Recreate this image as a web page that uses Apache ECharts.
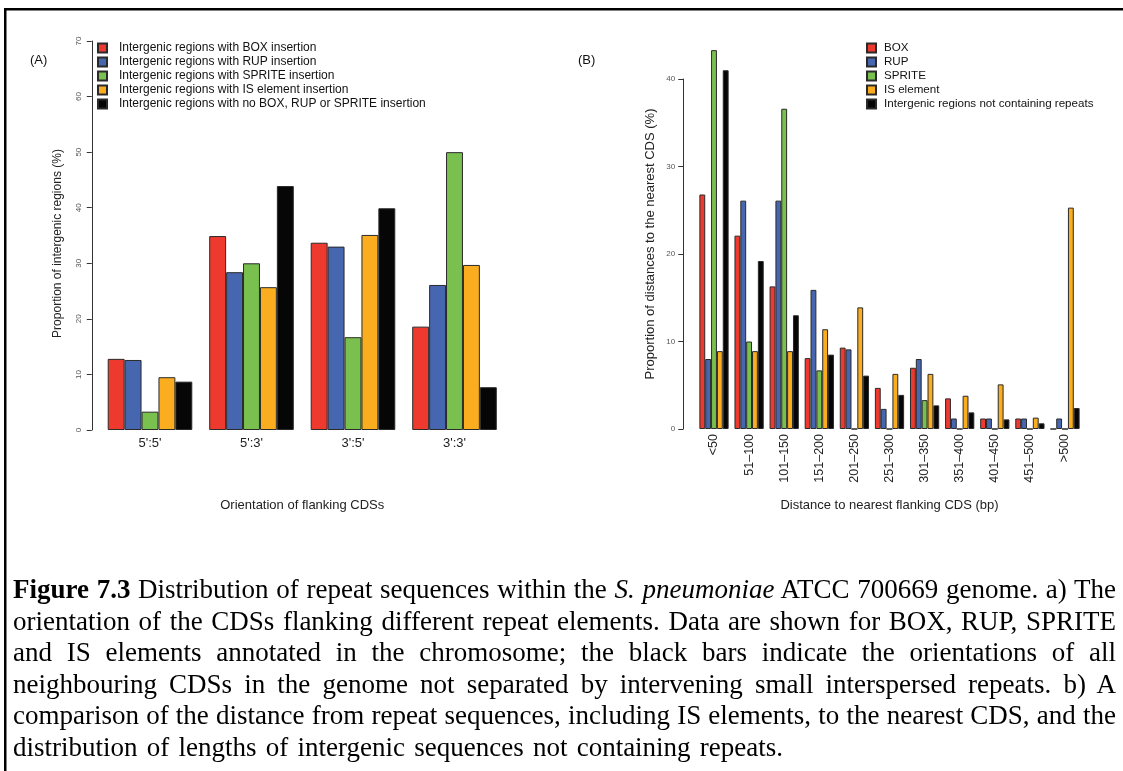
<!DOCTYPE html>
<html>
<head>
<meta charset="utf-8">
<script src="https://cdn.jsdelivr.net/npm/echarts@6/dist/echarts.min.js"></script>
<style>
  html, body { margin: 0; padding: 0; background: #fff; }
  #wrap { position: relative; width: 1123px; height: 771px; overflow: hidden; }
  #chart { position: absolute; left: 0; top: 0; width: 1123px; height: 771px; }
  #caption {
    position: absolute; left: 13px; top: 574px; width: 1103px;
    font-family: "Liberation Serif", "Times New Roman", serif;
    font-size: 27px; color: #000;
  }
  #caption div { height: 31.6px; line-height: 31.6px; white-space: nowrap; }
  #caption div.j { text-align: justify; text-align-last: justify; white-space: normal; overflow: hidden; }
  #caption div.last { word-spacing: 2.5px; }
</style>
</head>
<body>
<div id="wrap">
  <div id="chart"></div>
  <div id="caption">
    <div class="j"><b>Figure 7.3</b> Distribution of repeat sequences within the <i>S. pneumoniae</i> ATCC 700669 genome. a) The</div>
    <div class="j">orientation of the CDSs flanking different repeat elements. Data are shown for BOX, RUP, SPRITE</div>
    <div class="j">and IS elements annotated in the chromosome; the black bars indicate the orientations of all</div>
    <div class="j">neighbouring CDSs in the genome not separated by intervening small interspersed repeats. b) A</div>
    <div class="j">comparison of the distance from repeat sequences, including IS elements, to the nearest CDS, and the</div>
    <div class="last">distribution of lengths of intergenic sequences not containing repeats.</div>
  </div>
</div>
<script>
// Panel A: orientation of the CDSs flanking each intergenic region (%)
const orientations = ["5':5'", "5':3'", "3':5'", "3':3'"];
const boxA    = [12.8, 34.9, 33.7, 18.6];
const rupA    = [12.6, 28.4, 33.0, 26.1];
const spriteA = [3.3, 30.0, 16.7, 50.0];
const isA     = [9.5, 25.7, 35.1, 29.7];
const noneA   = [8.7, 43.9, 39.9, 7.7];
const namesA = [
  'Intergenic regions with BOX insertion',
  'Intergenic regions with RUP insertion',
  'Intergenic regions with SPRITE insertion',
  'Intergenic regions with IS element insertion',
  'Intergenic regions with no BOX, RUP or SPRITE insertion'
];

// Panel B: distance to the nearest flanking CDS (%)
const distances = ['<50', '51–100', '101–150', '151–200', '201–250', '251–300',
                   '301–350', '351–400', '401–450', '451–500', '>500'];
const boxB    = [26.8, 22.1, 16.3, 8.1, 9.3, 4.7, 7.0, 3.5, 1.2, 1.2, 0];
const rupB    = [8.0, 26.1, 26.1, 15.9, 9.1, 2.3, 8.0, 1.2, 1.2, 1.2, 1.2];
const spriteB = [43.3, 10.0, 36.6, 6.7, 0, 0, 3.3, 0, 0, 0, 0];
const isB     = [8.9, 8.9, 8.9, 11.4, 13.9, 6.3, 6.3, 3.8, 5.1, 1.3, 25.3];
const noneB   = [41.0, 19.2, 13.0, 8.5, 6.1, 3.9, 2.7, 1.9, 1.1, 0.65, 2.4];
const namesB = ['BOX', 'RUP', 'SPRITE', 'IS element', 'Intergenic regions not containing repeats'];

const colors = ['#EE3A2E', '#4666B0', '#79C04E', '#FAAD1E', '#060606'];
const FONT = '"Liberation Sans", Arial, Helvetica, sans-serif';

const chart = echarts.init(document.getElementById('chart'), null, { renderer: 'canvas' });

function barSeries(name, data, idx, axisIdx) {
  return {
    type: 'bar', name: name, data: data,
    xAxisIndex: axisIdx, yAxisIndex: axisIdx,
    barGap: '0%', barCategoryGap: '16.67%',
    clip: false, silent: true, animation: false,
    itemStyle: { color: colors[idx], borderColor: '#2a2a2a', borderWidth: 1 }
  };
}

const seriesA = [boxA, rupA, spriteA, isA, noneA].map((d, i) => barSeries(namesA[i], d, i, 0));
const seriesB = [boxB, rupB, spriteB, isB, noneB].map((d, i) => barSeries(namesB[i], d, i, 1));

const yAxisCommon = {
  type: 'value', interval: 10, min: 0,
  splitLine: { show: false },
  axisLine: { show: true, lineStyle: { color: '#333', width: 1 } },
  axisTick: { show: true, length: 5, lineStyle: { color: '#333' } },
  nameLocation: 'middle', nameRotate: 90
};

const legendCommon = {
  orient: 'vertical', icon: 'rect', itemWidth: 9, itemHeight: 9, itemGap: 0,
  padding: 0, selectedMode: false
};

chart.setOption({
  animation: false,
  backgroundColor: '#fff',
  grid: [
    { left: 99.25, top: 41, width: 406, height: 389 },
    { left: 696.45, top: 79, width: 386.1, height: 350 }
  ],
  xAxis: [
    {
      type: 'category', gridIndex: 0, data: orientations,
      axisLine: { show: false }, axisTick: { show: false },
      axisLabel: { fontFamily: FONT, fontSize: 13, color: '#222', margin: 7 },
      name: 'Orientation of flanking CDSs', nameLocation: 'middle', nameGap: 69,
      nameTextStyle: { fontFamily: FONT, fontSize: 13, color: '#222' }
    },
    {
      type: 'category', gridIndex: 1, data: distances,
      axisLine: { show: false }, axisTick: { show: false },
      axisLabel: { fontFamily: FONT, fontSize: 12.5, color: '#222', rotate: 90, margin: 5, interval: 0 },
      name: 'Distance to nearest flanking CDS (bp)', nameLocation: 'middle', nameGap: 70,
      nameTextStyle: { fontFamily: FONT, fontSize: 13, color: '#222' }
    }
  ],
  yAxis: [
    Object.assign({}, yAxisCommon, {
      gridIndex: 0, max: 70, offset: 7.5,
      axisLabel: { fontFamily: FONT, fontSize: 8, color: '#555', rotate: 90, margin: 9 },
      name: 'Proportion of intergenic regions (%)', nameGap: 28,
      nameTextStyle: { fontFamily: FONT, fontSize: 12, color: '#222', padding: [0, 16, 0, 0] }
    }),
    Object.assign({}, yAxisCommon, {
      gridIndex: 1, max: 40, offset: 13.2,
      axisLabel: { fontFamily: FONT, fontSize: 8, color: '#555', margin: 8 },
      name: 'Proportion of distances to the nearest CDS (%)', nameGap: 26,
      nameTextStyle: { fontFamily: FONT, fontSize: 13, color: '#222', padding: [0, 0, 0, 20] }
    })
  ],
  legend: [
    Object.assign({}, legendCommon, {
      data: namesA, left: 97, top: 41,
      textStyle: { fontFamily: FONT, fontSize: 12, color: '#111', lineHeight: 14, padding: [0, 0, 0, 7] }
    }),
    Object.assign({}, legendCommon, {
      data: namesB, left: 866, top: 41,
      textStyle: { fontFamily: FONT, fontSize: 11.6, color: '#111', lineHeight: 14, padding: [0, 0, 0, 3] }
    })
  ],
  graphic: [
    { type: 'rect', left: 4, top: 8, shape: { width: 1119, height: 2.5 }, style: { fill: '#000' }, silent: true },
    { type: 'rect', left: 4, top: 8, shape: { width: 2.5, height: 763 }, style: { fill: '#000' }, silent: true },
    { type: 'text', left: 30, top: 54, style: { text: '(A)', font: '13px ' + FONT, fill: '#111' } },
    { type: 'text', left: 578, top: 54, style: { text: '(B)', font: '13px ' + FONT, fill: '#111' } }
  ],
  series: seriesA.concat(seriesB)
});
</script>
</body>
</html>
